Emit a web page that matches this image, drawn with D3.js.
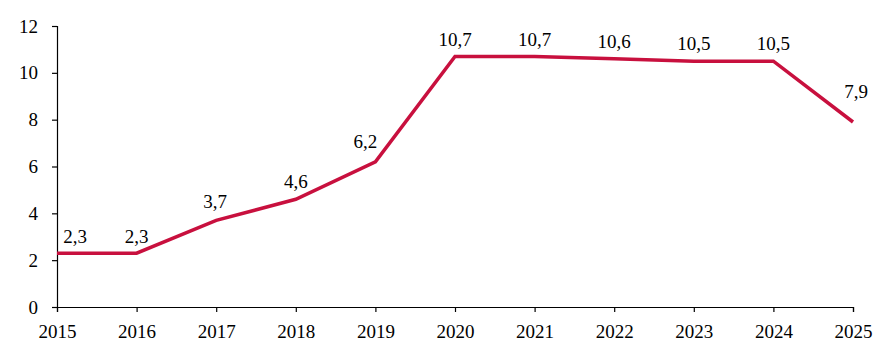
<!DOCTYPE html>
<html><head><meta charset="utf-8">
<script src="https://cdn.jsdelivr.net/npm/d3@7"></script>
<style>body{margin:0;background:#fff}svg{display:block}
svg text{font-family:"Liberation Serif",serif;font-size:19px;fill:#000}</style>
</head><body>
<svg id="c" width="888" height="357"></svg>
<script>
const years = [2015,2016,2017,2018,2019,2020,2021,2022,2023,2024,2025];
const values = [2.3,2.3,3.7,4.6,6.2,10.7,10.7,10.6,10.5,10.5,7.9];
const yTicks = [0,2,4,6,8,10,12];
const labelDx = [18,0,-1,0,-10,0,0,0,0,0,3];
const labelDy = [-10,-10,-12,-11,-14,-10,-10,-11,-11,-11,-24];

const W=888,H=357,m={l:57,r:35,t:26,b:50};
const svg=d3.select('#c');
const x=d3.scaleLinear().domain([2015,2025]).range([m.l,W-m.r]);
const y=d3.scaleLinear().domain([0,12]).range([H-m.b,m.t]);

const gx=svg.append('g').attr('transform',`translate(0,${H-m.b})`)
  .call(d3.axisBottom(x).tickValues(years).tickFormat(d3.format('d')).tickSize(5).tickPadding(13));
const gy=svg.append('g').attr('transform',`translate(${m.l},0)`)
  .call(d3.axisLeft(y).tickValues(yTicks).tickSize(5).tickPadding(14));
[gx,gy].forEach(g=>{
  g.attr('font-family',null).attr('font-size',null);
  g.selectAll('path,line').attr('stroke','#000').attr('stroke-width',1.2);
  g.selectAll('text').attr('fill','#000');
});

const line=d3.line().x((d,i)=>x(years[i])).y(d=>y(d));
svg.append('path').datum(values).attr('d',line).attr('fill','none')
  .attr('stroke','#C8103E').attr('stroke-width',3.5).attr('stroke-linejoin','miter');

svg.selectAll('.lbl').data(values).enter().append('text').attr('class','lbl')
  .attr('x',(d,i)=>x(years[i])+labelDx[i]).attr('y',(d,i)=>y(d)+labelDy[i])
  .attr('text-anchor','middle')
  .text(d=>d3.format('.1f')(d).replace('.',','));
</script>
</body></html>
